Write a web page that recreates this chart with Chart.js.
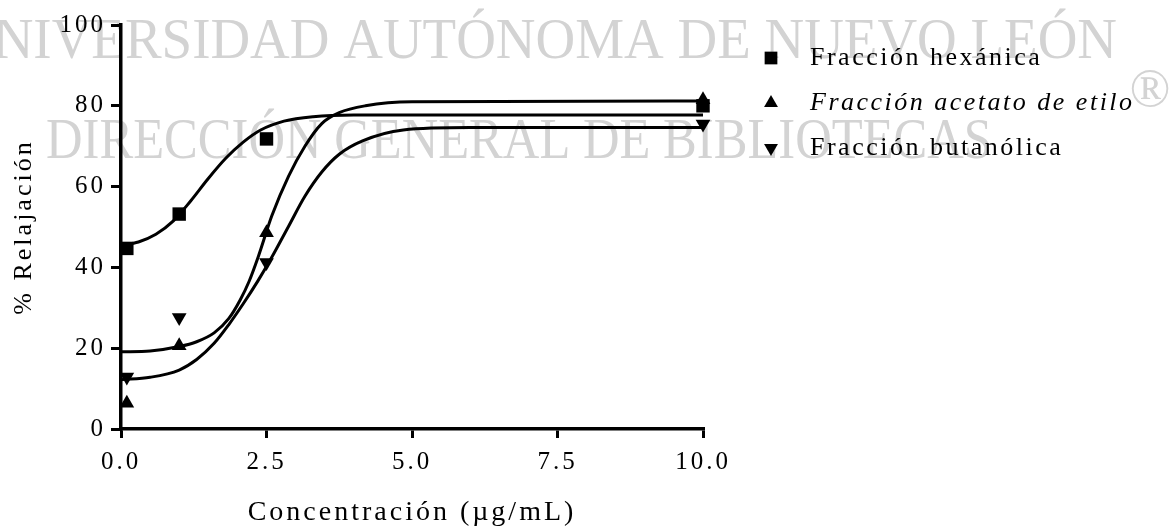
<!DOCTYPE html>
<html>
<head>
<meta charset="utf-8">
<script src="https://cdn.jsdelivr.net/npm/chart.js@4.4.1/dist/chart.umd.min.js"></script>
<style>
  html, body { margin: 0; padding: 0; background: #fff; }
</style>
</head>
<body>
<canvas id="chart" width="1171" height="530"></canvas>
<script>
const seriesLabels = ['Fracción hexánica', 'Fracción acetato de etilo', 'Fracción butanólica'];
const xTicks = [0, 2.5, 5, 7.5, 10];
const yTicks = [0, 20, 40, 60, 80, 100];

// measured points (concentration, % relaxation)
const doses = [0.1, 1, 2.5, 10];
const hexanica = [44.7, 53.2, 71.8, 80.0];
const acetato = [6.4, 20.6, 48.6, 81.5];
const butanolica = [12.9, 27.6, 41.2, 75.5];

// fitted curves
const hexCurveX = [0, 0.3, 0.6, 0.9, 1.2, 1.5, 1.8, 2.1, 2.4, 2.8, 3.3, 4.0, 10];
const hexCurveY = [45.5, 46.3, 48.2, 51.5, 56.5, 62, 67, 71, 74, 76.2, 77.3, 77.7, 77.7];
const aceCurveX = [0, 0.5, 1.0, 1.3, 1.6, 1.85, 2.05, 2.2, 2.36, 2.59, 2.88, 3.16, 3.45, 3.75, 4.2, 5, 10];
const aceCurveY = [19.1, 19.3, 20.4, 21.6, 23.8, 27.3, 32, 36.5, 42.7, 52.7, 62.6, 70, 75.6, 78.3, 80, 81, 81.2];
const butCurveX = [0, 0.5, 1.0, 1.3, 1.6, 1.85, 2.1, 2.35, 2.59, 2.88, 3.16, 3.45, 3.75, 4.15, 4.85, 6, 10];
const butCurveY = [12.2, 12.8, 14.6, 17.2, 21.2, 25.8, 31, 36.6, 42.5, 50.2, 57.6, 63.6, 68, 71.3, 74, 74.6, 74.6];

const serif = "'Liberation Serif', 'Times New Roman', serif";
Chart.defaults.font.family = serif;
Chart.defaults.color = '#000';

const toXY = (xs, ys) => xs.map((x, i) => ({ x, y: ys[i] }));

const markerStyles = [
  { pointStyle: 'rect', radius: 9.5, rotation: 0 },
  { pointStyle: 'triangle', radius: 8.5, rotation: 0 },
  { pointStyle: 'triangle', radius: 8.5, rotation: 180 },
];

function curve(xs, ys) {
  return {
    type: 'line',
    data: toXY(xs, ys),
    borderColor: '#000',
    borderWidth: 3,
    pointRadius: 0,
    cubicInterpolationMode: 'monotone',
    fill: false,
  };
}

function markers(label, ys, i) {
  return {
    type: 'scatter',
    label,
    data: toXY(doses, ys),
    backgroundColor: '#000',
    borderColor: '#000',
    borderWidth: 0,
    pointStyle: markerStyles[i].pointStyle,
    pointRadius: markerStyles[i].radius,
    pointRotation: markerStyles[i].rotation,
    clip: false,
  };
}

const watermark = {
  id: 'watermark',
  beforeDraw(chart) {
    const ctx = chart.ctx;
    ctx.letterSpacing = '0px';
    ctx.save();
    ctx.fillStyle = '#d3d3d3';
    ctx.textBaseline = 'alphabetic';
    ctx.textAlign = 'left';
    const lines = [
      { text: 'UNIVERSIDAD AUTÓNOMA DE NUEVO LEÓN', x0: -46, x1: 1117, base: 58 },
      { text: 'DIRECCIÓN GENERAL DE BIBLIOTECAS', x0: 46, x1: 992, base: 158 },
    ];
    ctx.font = '57px ' + serif;
    lines.forEach((l) => {
      const w = ctx.measureText(l.text).width;
      ctx.save();
      ctx.translate(l.x0, l.base);
      ctx.scale((l.x1 - l.x0) / w, 1);
      ctx.fillText(l.text, 0, 0);
      ctx.restore();
    });
    ctx.font = '54px ' + serif;
    ctx.textAlign = 'center';
    ctx.fillText('®', 1150, 106);
    ctx.restore();
    ctx.letterSpacing = '3px';
  },
};

const legendBox = {
  id: 'legendBox',
  afterDraw(chart) {
    const ctx = chart.ctx;
    ctx.save();
    ctx.fillStyle = '#000';
    ctx.strokeStyle = '#000';
    ctx.textAlign = 'left';
    ctx.textBaseline = 'alphabetic';
    const rowY = [58, 103, 148];
    seriesLabels.forEach((label, i) => {
      const m = markerStyles[i];
      Chart.helpers.drawPoint(ctx, {
        pointStyle: m.pointStyle,
        radius: i === 0 ? 9 : 8,
        rotation: m.rotation,
        borderWidth: 0,
      }, 771, rowY[i]);
      ctx.letterSpacing = '2.5px';
      ctx.font = (i === 1 ? 'italic ' : '') + '26px ' + serif;
      ctx.fillText(label, 810, rowY[i] + 7);
    });
    ctx.restore();
  },
};

new Chart(document.getElementById('chart'), {
  data: {
    datasets: [
      curve(hexCurveX, hexCurveY),
      curve(aceCurveX, aceCurveY),
      curve(butCurveX, butCurveY),
      markers(seriesLabels[0], hexanica, 0),
      markers(seriesLabels[1], acetato, 1),
      markers(seriesLabels[2], butanolica, 2),
    ],
  },
  options: {
    responsive: false,
    animation: false,
    events: [],
    layout: { padding: { top: 25, right: 468, left: 0, bottom: 0 } },
    plugins: {
      legend: { display: false },
      tooltip: { enabled: false },
    },
    scales: {
      x: {
        type: 'linear',
        min: 0,
        max: 10,
        afterFit: (scale) => { scale.height = 101; },
        afterBuildTicks: (scale) => { scale.ticks = xTicks.map((v) => ({ value: v })); },
        border: { display: true, color: '#000', width: 3.5 },
        grid: { drawOnChartArea: false, drawTicks: true, tickLength: 9, color: '#000', lineWidth: 3 },
        ticks: {
          padding: 9,
          maxRotation: 0,
          font: { size: 25 },
          callback: (v) => v.toFixed(1),
        },
        title: {
          display: true,
          text: 'Concentración (µg/mL)',
          font: { size: 28 },
          padding: { top: 0, bottom: 1 },
        },
      },
      y: {
        min: 0,
        max: 100,
        afterFit: (scale) => { scale.width = 121; },
        afterBuildTicks: (scale) => { scale.ticks = yTicks.map((v) => ({ value: v })); },
        border: { display: true, color: '#000', width: 3.5 },
        grid: { drawOnChartArea: false, drawTicks: true, tickLength: 10, color: '#000', lineWidth: 3 },
        ticks: {
          padding: 5,
          font: { size: 25 },
        },
        title: {
          display: true,
          text: '% Relajación',
          font: { size: 26 },
          padding: { top: 9, bottom: 0 },
        },
      },
    },
  },
  plugins: [watermark, legendBox],
});
</script>
</body>
</html>
